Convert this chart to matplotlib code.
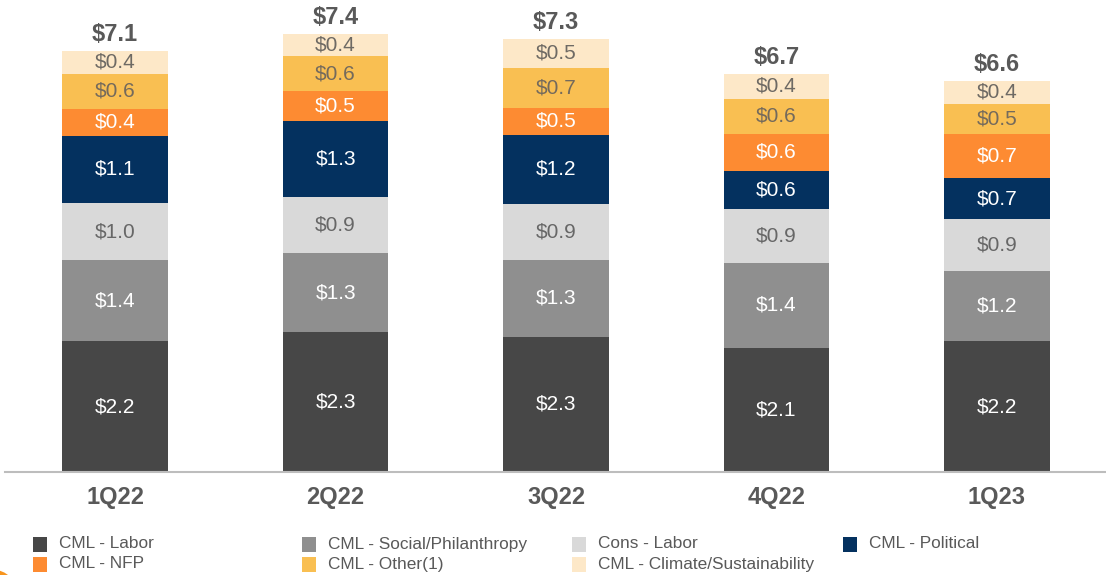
import matplotlib
matplotlib.use("Agg")
import matplotlib.pyplot as plt
from matplotlib.patches import Rectangle, Circle
import numpy as np

plt.rcParams['font.family'] = ['Liberation Sans', 'DejaVu Sans']

# ---- data ----
quarters = ["1Q22", "2Q22", "3Q22", "4Q22", "1Q23"]
series_names = ["CML - Labor", "CML - Social/Philanthropy", "Cons - Labor", "CML - Political",
                "CML - NFP", "CML - Other(1)", "CML - Climate/Sustainability"]
cml_labor = [2.19, 2.34, 2.27, 2.08, 2.19]
cml_social = [1.36, 1.33, 1.29, 1.43, 1.19]
cons_labor = [0.96, 0.94, 0.94, 0.91, 0.86]
cml_political = [1.14, 1.29, 1.16, 0.64, 0.69]
cml_nfp = [0.44, 0.50, 0.46, 0.61, 0.74]
cml_other = [0.60, 0.58, 0.67, 0.60, 0.51]
cml_climate = [0.38, 0.38, 0.49, 0.42, 0.39]
totals = [7.1, 7.4, 7.3, 6.7, 6.6]

series = [cml_labor, cml_social, cons_labor, cml_political, cml_nfp, cml_other, cml_climate]
colors = ["#474747", "#8f8f8f", "#d9d9d9", "#04315f", "#fd8b32", "#f9bf52", "#fde8c8"]
label_colors = ["white", "white", "#676767", "white", "white", "#746a5c", "#6e6a64"]

W, H = 1106, 575
fig = plt.figure(figsize=(W / 100, H / 100), dpi=100)
base_px = 471.7
px_per_unit = 59.5
ax = fig.add_axes([5 / W, (H - base_px) / H, 1102 / W, base_px / H])
ax.set_xlim(-0.5, 4.5)
ax.set_ylim(0, base_px / px_per_unit)

x = np.arange(len(quarters))
bottom = np.zeros(len(quarters))
for vals, col, lc in zip(series, colors, label_colors):
    vals = np.array(vals)
    ax.bar(x, vals, bottom=bottom, width=0.48, color=col, edgecolor='none', zorder=2)
    for xi, b, v in zip(x, bottom, vals):
        ax.text(xi, b + v / 2, f"${v:.1f}", ha='center', va='center', color=lc, fontsize=15, zorder=3)
    bottom += vals

for xi, top, t in zip(x, bottom, totals):
    ax.annotate(f"${t:.1f}", (xi, top), xytext=(0, 7.2), textcoords='offset points',
                ha='center', va='baseline', fontsize=17, fontweight='bold', color='#595959')

for s in ['top', 'right', 'left']:
    ax.spines[s].set_visible(False)
ax.spines['bottom'].set_color('#bdbdbd')
ax.spines['bottom'].set_linewidth(1.5)
ax.set_yticks([])
ax.set_xticks(x)
ax.set_xticklabels(quarters, fontsize=17, fontweight='bold', color='#595959')
ax.tick_params(axis='x', length=0, pad=10)

# ---- legend (manual, 4 columns x 2 rows) ----
col_x = [33, 302, 572, 843]
row_y = [544, 564]
order = [(0, 0), (1, 0), (2, 0), (3, 0), (0, 1), (1, 1), (2, 1)]
for (ci, ri), name, col in zip(order, series_names, colors):
    x0, yc = col_x[ci], row_y[ri]
    fig.patches.append(Rectangle((x0 / W, 1 - (yc + 7.5) / H), 14 / W, 15 / H,
                                 transform=fig.transFigure, facecolor=col, edgecolor='none'))
    fig.text((x0 + 26) / W, 1 - yc / H, name, ha='left', va='center', fontsize=12.4,
             color='#595959')

# decorative orange corner mark
fig.patches.append(Circle((-6, H - 592), 22, transform=None, facecolor='#f7941d',
                          edgecolor='none'))

fig.savefig("out.png", dpi=100)
